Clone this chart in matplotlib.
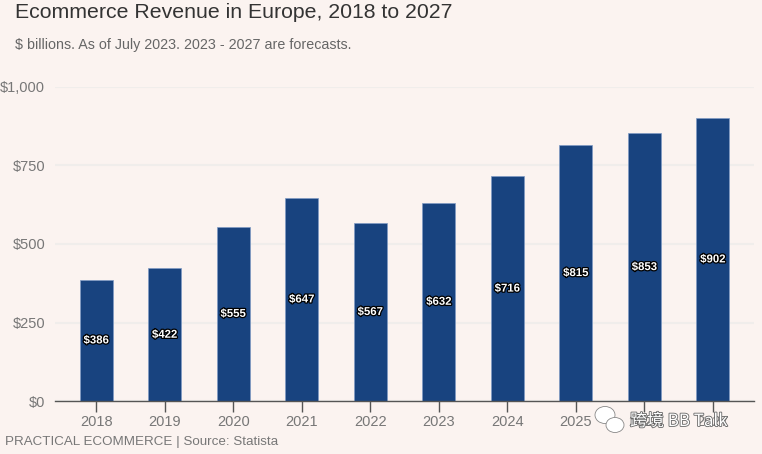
import matplotlib
matplotlib.use("Agg")
import matplotlib.pyplot as plt
import matplotlib.patheffects as pe
from matplotlib.patches import Ellipse

years = ["2018", "2019", "2020", "2021", "2022", "2023", "2024", "2025", "2026", "2027"]
revenue = [386, 422, 555, 647, 567, 632, 716, 815, 853, 902]
y_ticks = [0, 250, 500, 750, 1000]

W, H = 762, 454
BG = "#FBF3F0"
BAR = "#18437F"
plt.rcParams["font.family"] = ["Liberation Sans", "DejaVu Sans"]

fig = plt.figure(figsize=(W / 100, H / 100), dpi=100, facecolor=BG)
ax = fig.add_axes([55 / W, 1 - 401 / H, (754 - 55) / W, (401 - 87) / H], facecolor=BG)

xs = list(range(len(years)))
ax.bar(xs, revenue, width=0.48, color=BAR, edgecolor="#7F9BC4", linewidth=0.5, zorder=3)
for x, v in zip(xs, revenue):
    ax.text(x, v / 2, f"${v}", ha="center", va="center", color="white", fontsize=8.2,
            fontweight="bold", zorder=4,
            path_effects=[pe.withStroke(linewidth=1.8, foreground="black")])

ax.set_xlim(-0.6, 9.6)
ax.set_ylim(0, 1000)
ax.set_xticks(xs, years)
ax.set_yticks(y_ticks, [f"${t:,}" for t in y_ticks])
ax.grid(axis="y", color="#F0EDEB", linewidth=1.5, zorder=0)
ax.set_axisbelow(True)
for s in ["top", "right", "left"]:
    ax.spines[s].set_visible(False)
ax.spines["bottom"].set_color("#555555")
ax.spines["bottom"].set_linewidth(1.0)
ax.spines["bottom"].set_zorder(5)
ax.tick_params(axis="y", length=0, pad=7, labelsize=10.5, labelcolor="#777777")
ax.tick_params(axis="x", length=8, width=1, color="#555555", pad=2, labelsize=10.5, labelcolor="#777777")

fig.text(15 / W, 1 - 13 / H, "Ecommerce Revenue in Europe, 2018 to 2027", fontsize=15.3,
         color="#333333", ha="left", va="center")
fig.text(15 / W, 1 - 45 / H, "$ billions. As of July 2023. 2023 - 2027 are forecasts.", fontsize=10.3,
         color="#666666", ha="left", va="center")
fig.text(5 / W, 1 - 442 / H, "PRACTICAL ECOMMERCE | Source: Statista", fontsize=9.6,
         color="#777777", ha="left", va="center")

# watermark
stroke = [pe.withStroke(linewidth=1.2, foreground="#666666")]
fig.text(630 / W, 1 - 421 / H, "跨境 BB Talk", fontsize=12.2, color="white", ha="left", va="center",
         family=["Noto Sans CJK SC", "DejaVu Sans"], zorder=10, path_effects=stroke)
for cx, cy, w, h in [(605, 415, 20, 17), (615, 425, 18, 15)]:
    fig.add_artist(Ellipse((cx / W, 1 - cy / H), w / W, h / H, transform=fig.transFigure,
                           facecolor="white", edgecolor="#888888", linewidth=0.6, zorder=9))

fig.savefig("out.png", dpi=100, facecolor=BG)
